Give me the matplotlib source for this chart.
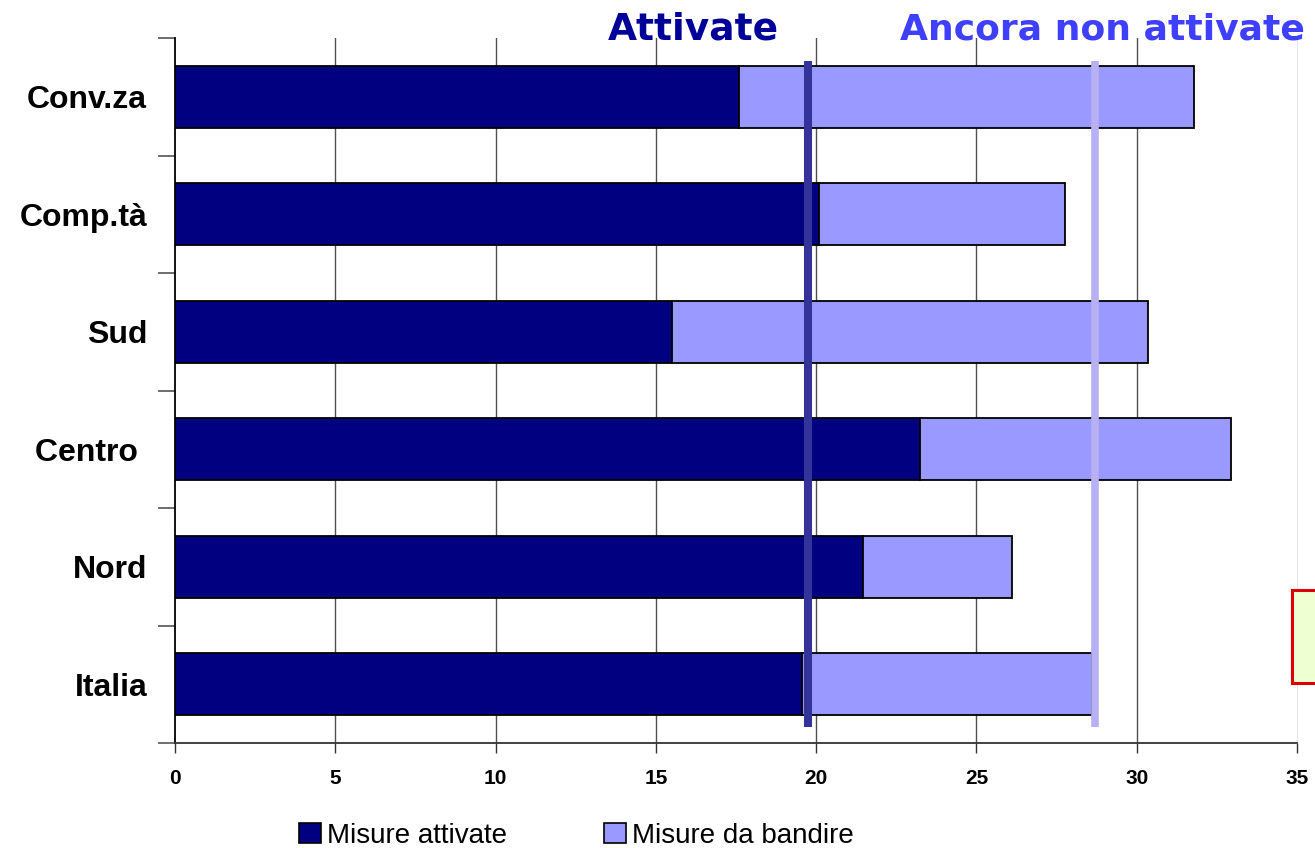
import matplotlib
matplotlib.use("Agg")
import matplotlib.pyplot as plt
from matplotlib.patches import Rectangle, Patch

categories = ["Italia", "Nord", "Centro ", "Sud", "Comp.tà", "Conv.za"]
attivate = [19.55, 21.45, 23.25, 15.5, 20.1, 17.6]
da_bandire = [9.05, 4.65, 9.7, 14.85, 7.65, 14.2]
line_attivate = 19.75
line_non_attivate = 28.7
x_ticks = [0, 5, 10, 15, 20, 25, 30, 35]

plt.rcParams['font.family'] = ['Liberation Sans', 'DejaVu Sans']

W, H = 1315, 848
fig = plt.figure(figsize=(W / 100, H / 100), dpi=100)
ax = fig.add_axes([175 / W, 1 - 743 / H, (1297 - 175) / W, (743 - 38) / H])

ypos = list(range(len(categories)))
dark = "#000080"
light = "#9999FF"
bh = 0.53
ax.barh(ypos, attivate, height=bh, color=dark, edgecolor="black", linewidth=1.3, zorder=3)
ax.barh(ypos, da_bandire, left=attivate, height=bh, color=light, edgecolor="black", linewidth=1.3, zorder=3)

# reference lines
ax.plot([line_attivate, line_attivate], [-0.364, 5.304], color="#333399", lw=5.8, solid_capstyle="butt", zorder=5)
ax.plot([line_non_attivate, line_non_attivate], [-0.364, 5.304], color="#B7B0F2", lw=5.5, solid_capstyle="butt", zorder=5)

ax.set_xlim(0, 35)
ax.set_ylim(-0.5, 5.5)
ax.set_xticks(x_ticks)
ax.set_xticklabels([str(v) for v in x_ticks], fontsize=15, fontweight="bold")
ax.tick_params(axis="x", length=7, width=1, pad=12, color="#333333")
for v in x_ticks[1:-1]:
    ax.axvline(v, color="#505050", lw=1, zorder=1)

ax.set_yticks(ypos)
ax.set_yticklabels(categories, fontsize=23, fontweight="bold")
ax.tick_params(axis="y", length=0, pad=20)
ax.set_yticks([i - 0.5 for i in range(len(categories) + 1)], minor=True)
ax.tick_params(axis="y", which="minor", length=12, width=1.2, color="#555555")

ax.spines["top"].set_visible(False)
ax.spines["right"].set_color("#e6e6e6")
ax.spines["left"].set_linewidth(1.3)
ax.spines["bottom"].set_linewidth(1.3)
ax.spines["bottom"].set_color("#333333")

# titles above
fig.text(693 / W, 1 - 29 / H, "Attivate", color="#000099", fontsize=27, fontweight="bold",
         family="DejaVu Sans", ha="center", va="center")
fig.text(1102 / W, 1 - 29 / H, "Ancora non attivate", color="#3F3FFF", fontsize=26, fontweight="bold",
         family="DejaVu Sans", ha="center", va="center")

# clipped note box at right
fig.patches.append(Rectangle((1292 / W, 1 - 683 / H), 40 / W, 93 / H, transform=fig.transFigure,
                             facecolor="#EEFFD2", edgecolor="#DD0000", linewidth=2.2))

handles = [Patch(facecolor=dark, edgecolor="black", linewidth=1.2),
           Patch(facecolor=light, edgecolor="black", linewidth=1.2)]
fig.legend(handles, ["Misure attivate", "Misure da bandire"], loc="center",
           bbox_to_anchor=(576 / W, 1 - 836 / H), ncol=2, frameon=False, fontsize=20,
           handlelength=0.8, handleheight=0.75, handletextpad=0.2, columnspacing=3.5, borderpad=0)

fig.savefig("out.png", dpi=100)
